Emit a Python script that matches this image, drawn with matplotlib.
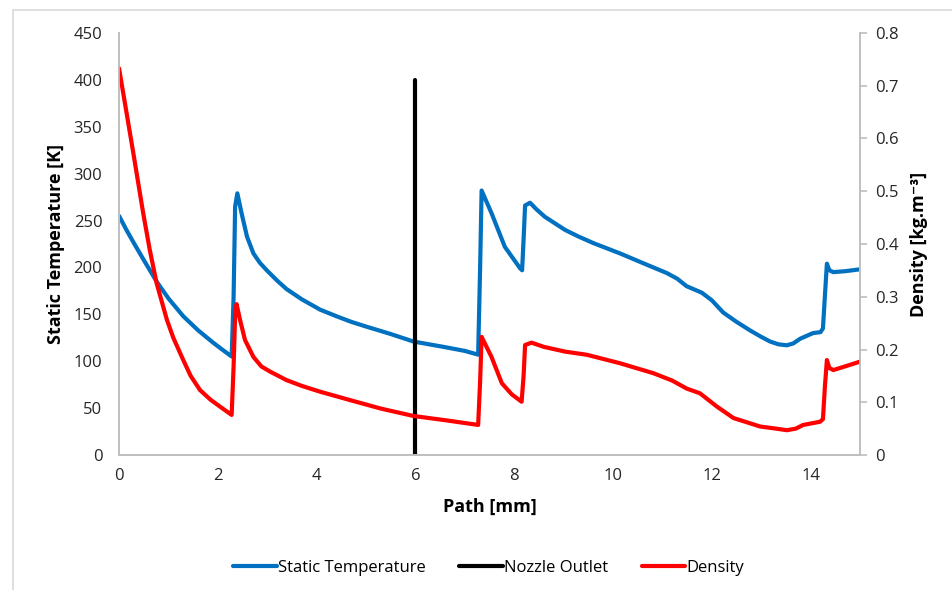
import matplotlib.pyplot as plt
from matplotlib.patches import Rectangle

plt.rcParams['font.family'] = ['Open Sans', 'DejaVu Sans']

# Static temperature along the path
path_t = [0.0, 0.15, 0.3, 0.5, 0.76, 1.0, 1.3, 1.6, 1.9, 2.1, 2.28,
          2.32, 2.35, 2.395, 2.48, 2.59, 2.72, 2.85, 2.99, 3.2, 3.39, 3.7, 4.07,
          4.4, 4.7, 5.0, 5.5, 5.96, 6.6, 7.0, 7.27,
          7.31, 7.34, 7.54, 7.81, 8.12, 8.16, 8.19, 8.22, 8.32, 8.45, 8.62, 9.03,
          9.3, 9.6, 10.14, 10.68, 11.09, 11.3, 11.49, 11.8, 12.0, 12.23, 12.5,
          12.77, 13.0, 13.18, 13.35, 13.52, 13.65, 13.79, 14.05, 14.2, 14.25,
          14.29, 14.33, 14.38, 14.46, 14.7, 15.0]
temperature = [255, 240, 226, 208, 185, 167, 148, 133, 120, 112, 105,
               170, 265, 279, 258, 233, 215, 205, 197, 186, 177, 166, 155,
               148, 142, 137, 129, 121, 115, 111, 107,
               200, 282, 258, 222, 199, 197, 230, 266, 269, 262, 254, 240,
               233, 226, 215, 203, 194, 188, 180, 173, 165, 152, 142,
               133, 126, 121, 118, 117, 119, 124, 130, 131, 135,
               170, 204, 197, 195, 196, 198]

# Density along the path
path_rho = [0.0, 0.15, 0.29, 0.49, 0.62, 0.76, 0.97, 1.1, 1.3, 1.45, 1.64, 1.85,
            2.04, 2.28, 2.32, 2.35, 2.38, 2.45, 2.55, 2.72, 2.88, 3.06, 3.39, 3.7,
            4.07, 4.68, 5.3, 5.96, 6.6, 7.27, 7.31, 7.34, 7.54, 7.75, 7.95, 8.15,
            8.19, 8.22, 8.35, 8.6, 9.03, 9.47, 10.14, 10.82, 11.2, 11.49, 11.76,
            12.1, 12.44, 12.98, 13.3, 13.52, 13.7, 13.85, 14.19, 14.25, 14.29,
            14.33, 14.38, 14.46, 14.7, 15.0]
density = [0.733, 0.650, 0.572, 0.458, 0.390, 0.326, 0.256, 0.222, 0.180, 0.150,
           0.123, 0.105, 0.092, 0.076, 0.17, 0.265, 0.286, 0.256, 0.218, 0.186,
           0.168, 0.158, 0.142, 0.131, 0.120, 0.104, 0.088, 0.074, 0.066, 0.057,
           0.14, 0.224, 0.186, 0.136, 0.115, 0.101, 0.15, 0.2085, 0.213, 0.205,
           0.196, 0.190, 0.174, 0.155, 0.141, 0.126, 0.117, 0.092, 0.070, 0.054,
           0.050, 0.047, 0.050, 0.057, 0.063, 0.068, 0.13, 0.180, 0.165, 0.161,
           0.168, 0.177]

# Nozzle outlet marker
nozzle_x = [6, 6]
nozzle_y = [0, 400]

fig = plt.figure(figsize=(9.53, 5.90), dpi=100)
fig.patches.append(Rectangle((0.0136, -0.1), 1.2, 1.083, transform=fig.transFigure,
                             fill=False, edgecolor='#d9d9d9', linewidth=1.2))

ax = fig.add_axes([0.1249, 0.2288, 0.7775, 0.7153])
ax2 = ax.twinx()

line_kw = dict(lw=3.0, solid_capstyle='round', solid_joinstyle='round')
l1, = ax.plot(path_t, temperature, color='#0070C0', label='Static Temperature', **line_kw)
l2, = ax.plot(nozzle_x, nozzle_y, color='black', label='Nozzle Outlet', **line_kw)
l3, = ax2.plot(path_rho, density, color='#FF0000', label='Density', **line_kw)

ax.set_xlim(0, 15)
ax.set_ylim(0, 450)
ax2.set_ylim(0, 0.8)
ax.set_xticks(range(0, 15, 2))
ax.set_yticks(range(0, 451, 50))
ax2.set_yticks([i / 10 for i in range(9)])
ax2.set_yticklabels(['0'] + [f'{i / 10:.1f}' for i in range(1, 9)])

for a in (ax, ax2):
    for s in a.spines.values():
        s.set_color('#bfbfbf')
        s.set_linewidth(1.2)
    a.spines['top'].set_visible(False)

ax.tick_params(axis='y', length=0, labelsize=12, colors='#262626', pad=12)
ax.tick_params(axis='x', length=0, labelsize=12, colors='#262626', pad=9)
ax2.tick_params(axis='y', length=5, width=1.2, color='#bfbfbf', labelsize=12,
                labelcolor='#262626', pad=6)

ax.set_xlabel('Path [mm]', fontsize=13, fontweight='bold', labelpad=10)
ax.set_ylabel('Static Temperature [K]', fontsize=13, fontweight='bold', labelpad=6)
ax2.set_ylabel('Density [kg.m⁻³]', fontsize=13, fontweight='bold', labelpad=8)

fig.legend(handles=[l1, l2, l3], loc='center', bbox_to_anchor=(0.513, 0.037),
           ncol=3, frameon=False, fontsize=12, handlelength=2.6, handletextpad=0.1,
           columnspacing=2.0)

fig.savefig('out.png', dpi=100)
